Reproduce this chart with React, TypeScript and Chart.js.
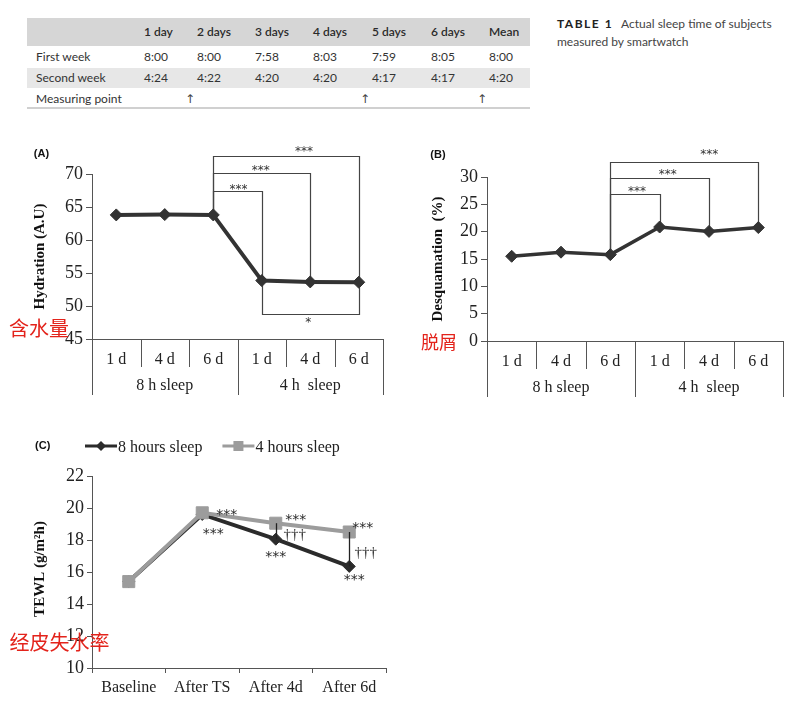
import React, { useEffect, useRef } from 'react';
import { Chart, registerables } from 'chart.js';

Chart.register(...registerables);

const SERIF = '"Liberation Serif", "Times New Roman", serif';
const SANS = '"Liberation Sans", Arial, sans-serif';
const DEJAVU = '"DejaVu Sans", sans-serif';
const CJK = '"Noto Sans CJK SC", sans-serif';
const LATO = 'Lato, "Open Sans", sans-serif';

// ---------- Table 1 ----------
const tableHeaders = ['1 day', '2 days', '3 days', '4 days', '5 days', '6 days', 'Mean'];
const rowLabels = ['First week', 'Second week', 'Measuring point'];
const firstWeek = ['8:00', '8:00', '7:58', '8:03', '7:59', '8:05', '8:00'];
const secondWeek = ['4:24', '4:22', '4:20', '4:20', '4:17', '4:17', '4:20'];
const measuringPoint = ['', '↑', '', '', '↑', '', '↑'];

// ---------- (A) / (B) ----------
const sleepDays = ['1 d', '4 d', '6 d', '1 d', '4 d', '6 d'];
const sleepGroups = ['8 h sleep', '4 h  sleep'];
const hydration = [63.8, 63.85, 63.8, 53.85, 53.65, 53.6];
const desquamation = [15.5, 16.25, 15.8, 20.85, 20.05, 20.75];

const hydrationBrackets = [
  { from: 2, to: 5, at: 72.7, mark: '***', dx: 18, dy: -7 },
  { from: 2, to: 4, at: 70.1, mark: '***', dx: -1, dy: -5 },
  { from: 2, to: 3, at: 67.4, mark: '***', dx: 1, dy: -4.5 },
  { from: 3, to: 5, at: 48.8, mark: '*', dx: -2, dy: 6 },
];
const desquamationBrackets = [
  { from: 2, to: 5, at: 32.8, mark: '***', dx: 25, dy: -10 },
  { from: 2, to: 4, at: 29.9, mark: '***', dx: 8, dy: -6 },
  { from: 2, to: 3, at: 26.9, mark: '***', dx: 2, dy: -5 },
];

// ---------- (C) ----------
const tewlStages = ['Baseline', 'After TS', 'After 4d', 'After 6d'];
const tewl8h = [15.4, 19.6, 18.05, 16.35];
const tewl4h = [15.4, 19.7, 19.05, 18.5];
// series index: 0 = 8 h, 1 = 4 h
const tewlMarks = [
  { i: 1, s: 1, t: '***', dx: 24.5, dy: 0 },
  { i: 1, s: 0, t: '***', dx: 11, dy: 17 },
  { i: 2, s: 1, t: '***', dx: 20, dy: -6 },
  { i: 2, s: 0, t: '†††', dx: 19, dy: -4 },
  { i: 2, s: 0, t: '***', dx: 0, dy: 15 },
  { i: 3, s: 1, t: '***', dx: 13.5, dy: -7 },
  { i: 3, s: 0, t: '†††', dx: 16.5, dy: -13 },
  { i: 3, s: 0, t: '***', dx: 5, dy: 11 },
];

function centerText(ctx: CanvasRenderingContext2D, text: string, x: number, y: number) {
  ctx.textAlign = 'center';
  ctx.textBaseline = 'alphabetic';
  const m = ctx.measureText(text);
  const by = y + (m.actualBoundingBoxAscent - m.actualBoundingBoxDescent) / 2;
  ctx.fillText(text, x, by);
}

function rotatedTitle(ctx: CanvasRenderingContext2D, text: string, x: number, y: number) {
  ctx.save();
  ctx.translate(x, y);
  ctx.rotate(-Math.PI / 2);
  ctx.font = `bold 15px ${SERIF}`;
  ctx.fillStyle = '#111';
  ctx.textAlign = 'center';
  ctx.textBaseline = 'middle';
  ctx.fillText(text, 0, 0);
  ctx.restore();
}

function panelPlugin(opts: any) {
  return {
    id: 'panel' + opts.letter,
    beforeDatasetsDraw(chart: any) {
      const { ctx } = chart;
      const x = chart.scales.x;
      const y = chart.scales.y;
      const data = chart.data.datasets[0].data;
      ctx.save();
      ctx.strokeStyle = '#444';
      ctx.lineWidth = 1.2;
      opts.brackets.forEach((b: any) => {
        const x1 = Math.round(x.getPixelForValue(b.from)) + 0.5;
        const x2 = Math.round(x.getPixelForValue(b.to)) + 0.5;
        const yl = Math.round(y.getPixelForValue(b.at)) + 0.5;
        ctx.beginPath();
        ctx.moveTo(x1, y.getPixelForValue(data[b.from]));
        ctx.lineTo(x1, yl);
        ctx.lineTo(x2, yl);
        ctx.lineTo(x2, y.getPixelForValue(data[b.to]));
        ctx.stroke();
      });
      ctx.restore();
    },
    afterDraw(chart: any) {
      const { ctx, chartArea: area } = chart;
      const x = chart.scales.x;
      const y = chart.scales.y;
      ctx.save();
      // bracket marks
      ctx.fillStyle = '#333';
      ctx.font = `12px ${DEJAVU}`;
      opts.brackets.forEach((b: any) => {
        const x1 = x.getPixelForValue(b.from);
        const x2 = x.getPixelForValue(b.to);
        const yl = y.getPixelForValue(b.at);
        centerText(ctx, b.mark, (x1 + x2) / 2 + b.dx, yl + b.dy);
      });
      // category separators and group labels
      const n = chart.data.labels.length;
      const half = (x.getPixelForValue(1) - x.getPixelForValue(0)) / 2;
      const edge = (i: number) => (i < n ? x.getPixelForValue(i) - half : x.getPixelForValue(n - 1) + half);
      ctx.strokeStyle = '#555';
      ctx.lineWidth = 1;
      const per = n / opts.groups.length;
      for (let i = 0; i <= n; i++) {
        const px = Math.round(edge(i)) + 0.5;
        const len = i % per === 0 ? 56 : 28;
        ctx.beginPath();
        ctx.moveTo(px, area.bottom);
        ctx.lineTo(px, area.bottom + len);
        ctx.stroke();
      }
      ctx.fillStyle = '#222';
      ctx.font = `16px ${SERIF}`;
      opts.groups.forEach((g: string, gi: number) => {
        const cx = (edge(gi * per) + edge((gi + 1) * per)) / 2;
        centerText(ctx, g, cx, area.bottom + 47);
      });
      // panel letter
      ctx.font = `bold 11px ${SANS}`;
      ctx.fillStyle = '#111';
      centerText(ctx, opts.letter, opts.letterX, opts.letterY);
      // axis title
      rotatedTitle(ctx, opts.title, area.left - opts.titleOffset, (area.top + area.bottom) / 2);
      // red note
      ctx.font = `${opts.noteSize}px ${CJK}`;
      ctx.fillStyle = '#e3231b';
      centerText(ctx, opts.note, opts.noteX, opts.noteY);
      ctx.restore();
    },
  };
}

function tewlPlugin() {
  return {
    id: 'tewlPanel',
    afterDatasetsDraw(chart: any) {
      const { ctx } = chart;
      const x = chart.scales.x;
      const y = chart.scales.y;
      const ds = chart.data.datasets;
      ctx.save();
      ctx.strokeStyle = '#222';
      ctx.lineWidth = 1.3;
      [2, 3].forEach((i) => {
        const px = Math.round(x.getPixelForValue(i)) + 0.5;
        ctx.beginPath();
        ctx.moveTo(px, y.getPixelForValue(ds[1].data[i]));
        ctx.lineTo(px, y.getPixelForValue(ds[0].data[i]));
        ctx.stroke();
      });
      ctx.restore();
    },
    afterDraw(chart: any) {
      const { ctx, chartArea: area } = chart;
      const x = chart.scales.x;
      const y = chart.scales.y;
      const ds = chart.data.datasets;
      ctx.save();
      ctx.fillStyle = '#2a2a2a';
      tewlMarks.forEach((m) => {
        ctx.font = m.t === '***' ? `14px ${DEJAVU}` : `15px ${SERIF}`;
        const px = x.getPixelForValue(m.i);
        const py = y.getPixelForValue(ds[m.s].data[m.i]);
        centerText(ctx, m.t, px + m.dx, py + m.dy);
      });
      // legend
      const ly = 26;
      let lx = 85;
      ds.forEach((d: any, k: number) => {
        ctx.strokeStyle = d.borderColor;
        ctx.fillStyle = d.borderColor;
        ctx.lineWidth = 3;
        ctx.beginPath();
        ctx.moveTo(lx, ly);
        ctx.lineTo(lx + 32, ly);
        ctx.stroke();
        const mx = lx + 16;
        ctx.beginPath();
        if (k === 0) {
          ctx.moveTo(mx, ly - 5);
          ctx.lineTo(mx + 5, ly);
          ctx.lineTo(mx, ly + 5);
          ctx.lineTo(mx - 5, ly);
          ctx.closePath();
        } else {
          ctx.rect(mx - 5, ly - 5, 10, 10);
        }
        ctx.fill();
        ctx.fillStyle = '#222';
        ctx.font = `16px ${SERIF}`;
        ctx.textAlign = 'left';
        ctx.textBaseline = 'alphabetic';
        const m = ctx.measureText(d.label);
        ctx.fillText(d.label, lx + 33, ly + 5.5);
        lx = lx + 33 + m.width + 20;
      });
      ctx.font = `bold 11px ${SANS}`;
      ctx.fillStyle = '#111';
      centerText(ctx, '(C)', 42.7, 26);
      rotatedTitle(ctx, 'TEWL (g/m²h)', area.left - 52, (area.top + area.bottom) / 2 - 3);
      ctx.font = `20px ${CJK}`;
      ctx.fillStyle = '#e3231b';
      centerText(ctx, '经皮失水率', 59.5, 221.5);
      ctx.restore();
    },
  };
}

const tickFont = { family: SERIF, size: 18 };
const catFont = { family: SERIF, size: 16 };

function sleepConfig(values: number[], min: number, max: number, opts: any) {
  return {
    type: 'line',
    data: {
      labels: sleepDays,
      datasets: [
        {
          data: values,
          borderColor: '#333',
          backgroundColor: '#333',
          borderWidth: opts.lineWidth,
          pointStyle: 'rectRot',
          pointRadius: 6,
          pointBorderWidth: 1,
          pointBackgroundColor: '#333',
          pointBorderColor: '#333',
          tension: 0,
        },
      ],
    },
    options: {
      responsive: false,
      animation: false,
      layout: { padding: { top: opts.padTop, right: opts.padRight, left: 0, bottom: 0 } },
      plugins: { legend: { display: false }, tooltip: { enabled: false } },
      scales: {
        x: {
          offset: true,
          grid: { display: false, drawTicks: false },
          border: { display: true, color: '#555', width: 1 },
          ticks: { font: catFont, color: '#222', padding: 11, maxRotation: 0, autoSkip: false },
          afterFit: (s: any) => {
            s.height = opts.xHeight;
          },
        },
        y: {
          min,
          max,
          ticks: { stepSize: 5, font: tickFont, color: '#222', padding: 3 },
          grid: { drawOnChartArea: false, drawTicks: true, tickLength: 6, color: '#555' },
          border: { display: true, color: '#555', width: 1 },
          afterFit: (s: any) => {
            s.width = opts.yWidth;
          },
        },
      },
    },
    plugins: [panelPlugin(opts)],
  };
}

function tewlConfig() {
  return {
    type: 'line',
    data: {
      labels: tewlStages,
      datasets: [
        {
          label: '8 hours sleep',
          data: tewl8h,
          borderColor: '#2b2b2b',
          backgroundColor: '#2b2b2b',
          borderWidth: 4,
          pointStyle: 'rectRot',
          pointRadius: 6,
          pointBorderWidth: 1,
          pointBackgroundColor: '#2b2b2b',
          tension: 0,
          order: 1,
        },
        {
          label: '4 hours sleep',
          data: tewl4h,
          borderColor: '#9c9c9c',
          backgroundColor: '#9c9c9c',
          borderWidth: 4,
          pointStyle: 'rect',
          pointRadius: 8.5,
          pointBorderWidth: 1,
          pointBackgroundColor: '#9c9c9c',
          tension: 0,
          order: 0,
        },
      ],
    },
    options: {
      responsive: false,
      animation: false,
      layout: { padding: { top: 56, right: 34, left: 0, bottom: 0 } },
      plugins: { legend: { display: false }, tooltip: { enabled: false } },
      scales: {
        x: {
          offset: true,
          grid: { offset: true, drawOnChartArea: false, drawTicks: true, tickLength: 5, color: '#555' },
          border: { display: true, color: '#555', width: 1 },
          ticks: { font: catFont, color: '#222', padding: 5, maxRotation: 0, autoSkip: false },
          afterFit: (s: any) => {
            s.height = 34;
          },
        },
        y: {
          min: 10,
          max: 22,
          ticks: { stepSize: 2, font: tickFont, color: '#222', padding: 3 },
          grid: { drawOnChartArea: false, drawTicks: true, tickLength: 5, color: '#555' },
          border: { display: true, color: '#555', width: 1 },
          afterFit: (s: any) => {
            s.width = 92;
          },
        },
      },
    },
    plugins: [tewlPlugin()],
  };
}

function ChartCanvas({ left, top, width, height, make }: any) {
  const ref = useRef<HTMLCanvasElement>(null);
  useEffect(() => {
    if (!ref.current) return;
    const chart = new Chart(ref.current, make());
    return () => chart.destroy();
  }, []);
  return (
    <canvas
      ref={ref}
      width={width}
      height={height}
      style={{ position: 'absolute', left, top, width, height }}
    />
  );
}

function Table1() {
  const colX = [144, 197, 255, 313, 372, 431, 489];
  const rowY = [57, 78, 99];
  const cell = (text: string, left: number, cy: number, key: string, extra: any = {}) => (
    <div
      key={key}
      style={{
        position: 'absolute',
        left,
        top: cy - 8,
        height: 16,
        lineHeight: '16px',
        whiteSpace: 'nowrap',
        ...extra,
      }}
    >
      {text}
    </div>
  );
  return (
    <div style={{ position: 'absolute', left: 0, top: 0, fontFamily: LATO, fontSize: 12, color: '#333' }}>
      <div style={{ position: 'absolute', left: 27, top: 18, width: 503, height: 28, background: '#d6d6d6' }} />
      <div style={{ position: 'absolute', left: 27, top: 68, width: 503, height: 20, background: '#e7e7e7' }} />
      <div style={{ position: 'absolute', left: 27, top: 107, width: 503, height: 2, background: '#d0d0d0' }} />
      {tableHeaders.map((h, i) => cell(h, colX[i], 32, 'h' + i, { fontWeight: 600, color: '#2a2a2a' }))}
      {rowLabels.map((r, i) => cell(r, 36, rowY[i], 'r' + i))}
      {firstWeek.map((v, i) => cell(v, colX[i], rowY[0], 'a' + i))}
      {secondWeek.map((v, i) => cell(v, colX[i], rowY[1], 'b' + i))}
      {measuringPoint.map((v, i) =>
        v ? cell(v, colX[i] - 12, rowY[2], 'm' + i, { fontFamily: DEJAVU, fontSize: 12, color: '#444' }) : null
      )}
      <div
        style={{
          position: 'absolute',
          left: 557,
          top: 15,
          width: 250,
          fontSize: 12,
          lineHeight: '18px',
          color: '#444',
          whiteSpace: 'nowrap',
        }}
      >
        <span style={{ fontWeight: 700, letterSpacing: 1.5, color: '#222', marginRight: 8 }}>TABLE 1</span>
        Actual sleep time of subjects
        <br />
        measured by smartwatch
      </div>
    </div>
  );
}

export default function App() {
  return (
    <div style={{ position: 'absolute', left: 0, top: 0, width: 808, height: 702, background: '#fff', overflow: 'hidden' }}>
      <Table1 />
      <ChartCanvas
        left={0}
        top={130}
        width={400}
        height={280}
        make={() =>
          sleepConfig(hydration, 45, 70, {
            letter: '(A)',
            letterX: 41.5,
            letterY: 24,
            title: 'Hydration (A.U)',
            titleOffset: 52,
            note: '含水量',
            noteSize: 20,
            noteX: 39,
            noteY: 198,
            brackets: hydrationBrackets,
            groups: sleepGroups,
            lineWidth: 4,
            padTop: 44,
            padRight: 17,
            xHeight: 71,
            yWidth: 92,
          })
        }
      />
      <ChartCanvas
        left={400}
        top={130}
        width={408}
        height={280}
        make={() =>
          sleepConfig(desquamation, 0, 30, {
            letter: '(B)',
            letterX: 38,
            letterY: 25,
            title: 'Desquamation  (%)',
            titleOffset: 48.5,
            note: '脱屑',
            noteSize: 18,
            noteX: 39,
            noteY: 212,
            brackets: desquamationBrackets,
            groups: sleepGroups,
            lineWidth: 3.5,
            padTop: 47,
            padRight: 25,
            xHeight: 69,
            yWidth: 87,
          })
        }
      />
      <ChartCanvas left={0} top={420} width={420} height={282} make={tewlConfig} />
    </div>
  );
}
